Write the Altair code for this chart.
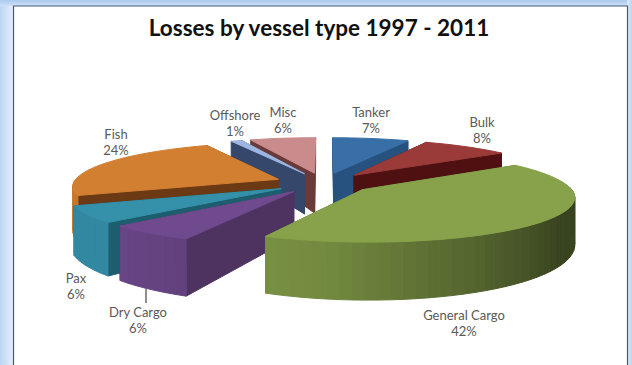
import math
import altair as alt

# Loss shares by vessel type, clockwise from twelve o'clock
types = ["Tanker", "Bulk", "General Cargo", "Dry Cargo", "Pax", "Fish", "Offshore", "Misc"]
shares = [7, 8, 42, 6, 6, 24, 1, 6]

# Face colours of each slice, and of its cut walls
top_colors = ["#376fa6", "#9a3b39", "#87a24b", "#6f4a8e", "#3590aa", "#d27f32", "#9db6e0", "#c98b8b"]
cut_colors = ["#27517e", "#4f1012", "#5a7030", "#4e3360", "#1c5e6e", "#6b3a14", "#35486c", "#6b3a38"]

# Back-to-front painting order
paint_order = ["Misc", "Offshore", "Fish", "Pax", "Dry Cargo", "Tanker", "Bulk", "General Cargo"]

# Pie geometry on the page
CX, CY = 323.5, 183
A, B = 205, 43
EXPLODE = 0.24
PERSPECTIVE = 0.14

# First-line anchors of the labels on the page
label_pos = {
    "Tanker": (371, 113), "Bulk": (482, 123), "General Cargo": (464, 316),
    "Dry Cargo": (138, 313), "Pax": (76, 279), "Fish": (116, 135),
    "Offshore": (235, 116), "Misc": (283, 113),
}


def to_hex(color, factor):
    parts = [int(color[i:i + 2], 16) for i in (1, 3, 5)]
    return "#" + "".join(f"{min(255, int(p * factor)):02x}" for p in parts)


def project(r, theta, mid, z=0.0):
    """Place a point of the tilted pie; z=1 is the underside of the slab."""
    X = r * math.sin(math.radians(theta)) + EXPLODE * math.sin(math.radians(mid))
    Y = r * math.cos(math.radians(theta)) + EXPLODE * math.cos(math.radians(mid))
    s = 1 / (1 + PERSPECTIVE * Y)
    return [round(CX + A * s * X, 2), round(CY - B * s * Y + (43 - 13 * Y) * z, 2)]


def rim_shade(theta):
    """Lighting of the outer wall: dark on the right, bright towards the left."""
    if theta <= 122:
        return 0.42
    if theta <= 190:
        return 0.42 + (theta - 122) / 68 * 0.43
    if theta <= 230:
        return 0.85 + (theta - 190) / 40 * 0.1
    return 0.95


def polygon(points, color):
    return {
        "type": "Feature",
        "properties": {"fill": color},
        "geometry": {"type": "Polygon", "coordinates": [points + [points[0]]]},
    }


spans = {}
start = 0.0
for name, share in zip(types, shares):
    spans[name] = (start, start + share * 3.6)
    start += share * 3.6

features = []
for name in paint_order:
    i = types.index(name)
    a0, a1 = spans[name]
    mid = (a0 + a1) / 2
    steps = max(2, int((a1 - a0) / 3))
    thetas = [a0 + (a1 - a0) * k / steps for k in range(steps + 1)]

    # Radial cut walls
    for edge in (a0, a1):
        features.append(polygon(
            [project(0, edge, mid), project(1, edge, mid),
             project(1, edge, mid, 1), project(0, edge, mid, 1)],
            cut_colors[i],
        ))
    # Outer wall, only where it faces the viewer
    for t0, t1 in zip(thetas, thetas[1:]):
        if math.cos(math.radians((t0 + t1) / 2)) < 0.03:
            features.append(polygon(
                [project(1, t0, mid), project(1, t1, mid),
                 project(1, t1, mid, 1), project(1, t0, mid, 1)],
                to_hex(top_colors[i], rim_shade((t0 + t1) / 2)),
            ))
    # Top face
    features.append(polygon(
        [project(0, a0, mid)] + [project(1, t, mid) for t in thetas],
        top_colors[i],
    ))

pie = (
    alt.Chart(alt.Data(values=features))
    .mark_geoshape(strokeWidth=1)
    .encode(
        fill=alt.Fill("properties.fill:N", scale=None, legend=None),
        stroke=alt.Stroke("properties.fill:N", scale=None, legend=None),
    )
    .project(type="identity", scale=1, translate=[0, 0])
)

label_rows = [
    {"text": f"{n}\n{s}%", "x": label_pos[n][0], "y": label_pos[n][1]}
    for n, s in zip(types, shares)
]
labels = (
    alt.Chart(alt.Data(values=label_rows))
    .mark_text(font="Lato", fontSize=13, color="#595959", lineBreak="\n", lineHeight=16, align="center", baseline="middle")
    .encode(
        x=alt.X("x:Q", scale=None, axis=None),
        y=alt.Y("y:Q", scale=None, axis=None),
        text="text:N",
    )
)

# Leader line from the Dry Cargo slice to its label
leader = alt.Chart(alt.Data(values=[{}])).mark_rule(color="#6b6b6b", strokeWidth=1.5).encode(
    x=alt.value(146), y=alt.value(289), y2=alt.value(303)
)

# Window surround
left_glow = alt.Chart(alt.Data(values=[{}])).mark_rect(
    fill=alt.Gradient(gradient="linear", x1=0, x2=1, y1=0, y2=0,
                      stops=[alt.GradientStop(color="#bcd5f3", offset=0), alt.GradientStop(color="#e8f1fc", offset=1)])
).encode(x=alt.value(0), x2=alt.value(14), y=alt.value(0), y2=alt.value(365))
top_glow = alt.Chart(alt.Data(values=[{}])).mark_rect(
    fill=alt.Gradient(gradient="linear", x1=0, x2=0, y1=0, y2=1,
                      stops=[alt.GradientStop(color="#a9c9ee", offset=0), alt.GradientStop(color="#cfe1f7", offset=1)])
).encode(x=alt.value(0), x2=alt.value(632), y=alt.value(0), y2=alt.value(6))
right_glow = alt.Chart(alt.Data(values=[{}])).mark_rect(
    fill=alt.Gradient(gradient="linear", x1=0, x2=1, y1=0, y2=0,
                      stops=[alt.GradientStop(color="#e0ecfa", offset=0), alt.GradientStop(color="#bcd5f3", offset=1)])
).encode(x=alt.value(627), x2=alt.value(632), y=alt.value(0), y2=alt.value(365))
sheet = alt.Chart(alt.Data(values=[{}])).mark_rect(
    fill="white", stroke="#46587a", strokeWidth=1.2
).encode(x=alt.value(13.5), x2=alt.value(627.5), y=alt.value(6), y2=alt.value(380))

chart = (
    alt.layer(left_glow, top_glow, right_glow, sheet, pie, leader, labels)
    .properties(
        width=632,
        height=365,
        padding=0,
        autosize=alt.AutoSizeParams(type="none"),
        title=alt.TitleParams(
            "Losses by vessel type 1997 - 2011",
            font="Lato", fontSize=22.5, fontWeight="bold", color="#111111",
            anchor="middle", offset=-40, dx=3,
        ),
    )
    .configure_view(stroke=None, clip=False)
)

chart.save("out.html", embed_options={"renderer": "svg", "actions": False})
